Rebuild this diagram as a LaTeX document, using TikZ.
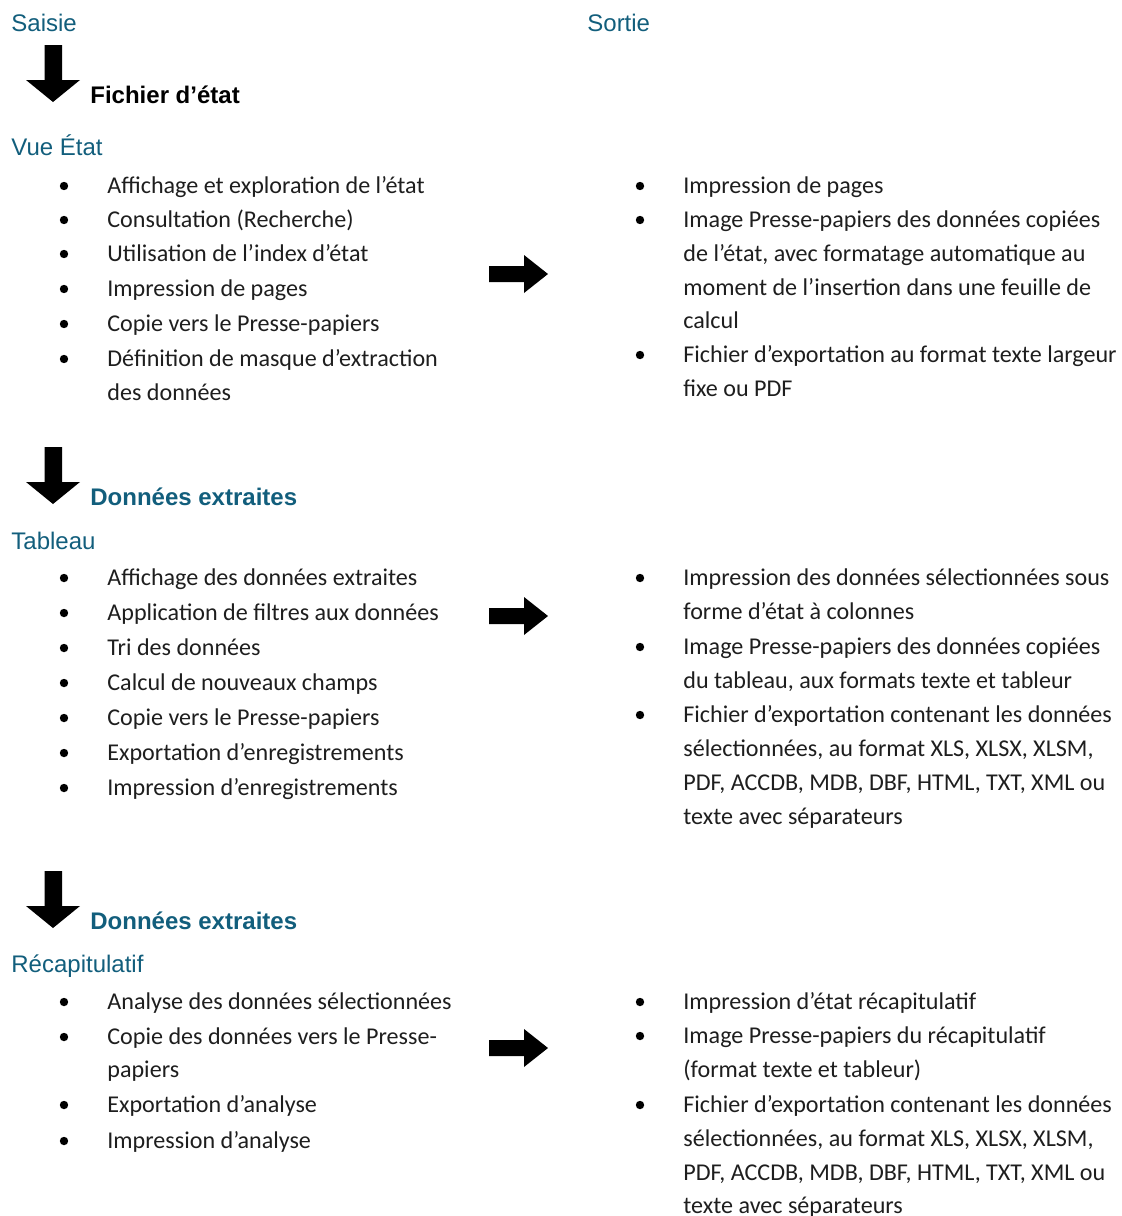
\documentclass[tikz,border=0pt]{standalone}
\usepackage{fontspec}
\setmainfont{Carlito}
\newfontfamily\arialf{Liberation Sans}
\definecolor{teal1}{RGB}{18,94,124}
\definecolor{bodycol}{RGB}{30,30,30}
\tikzset{
  head/.style={font=\arialf\fontsize{12}{14}\selectfont, text=teal1, anchor=base west, inner sep=0pt},
  headb/.style={font=\arialf\bfseries\fontsize{12}{14}\selectfont, text=black, anchor=base west, inner sep=0pt},
  headbt/.style={font=\arialf\bfseries\fontsize{12}{14}\selectfont, text=teal1, anchor=base west, inner sep=0pt},
  txt/.style={font=\fontsize{12.05}{14}\selectfont, text=bodycol, anchor=base west, inner sep=0pt},
  bul/.style={circle, fill=black, inner sep=0pt, minimum size=4.2pt},
}
\newcommand{\downarr}[1]{\fill[black] (44.5,#1) -- (62,#1) -- ++(0,35) -- (80,#1+35) -- (53,#1+57) -- (26,#1+35) -- (44.5,#1+35) -- cycle;}
\newcommand{\rightarr}[1]{\fill[black] (489,#1-8) -- (524,#1-8) -- (524,#1-19) -- (548,#1) -- (524,#1+19) -- (524,#1+8) -- (489,#1+8) -- cycle;}
\begin{document}
\begin{tikzpicture}[x=0.5pt,y=-0.5pt]
\useasboundingbox (0,0) rectangle (1122,1216);
% headers
\node[head] (saisie) at (11,31) {Saisie};
\node[head] (sortie) at (587,31) {Sortie};
% section 1
\downarr{45}
\node[headb] (fe) at (90,103) {Fichier d’état};
\node[head] (vue) at (11,155) {Vue État};
\foreach \y [count=\i] in {186,220,254,289,324,359} {\node[bul] (lb1\i) at (64,\y) {};}
\node[txt] (l1a) at (107,193) {Affichage et exploration de l’état};
\node[txt] (l1b) at (107,227) {Consultation (Recherche)};
\node[txt] (l1c) at (107,261) {Utilisation de l’index d’état};
\node[txt] (l1d) at (107,296) {Impression de pages};
\node[txt] (l1e) at (107,331) {Copie vers le Presse-papiers};
\node[txt] (l1f) at (107,366) {Définition de masque d’extraction};
\node[txt] (l1g) at (107,400) {des données};
\rightarr{274}
\foreach \y [count=\i] in {186,220,355} {\node[bul] (rb1\i) at (640,\y) {};}
\node[txt] (r1a) at (683,193) {Impression de pages};
\node[txt] (r1b) at (683,227) {Image Presse-papiers des données copiées};
\node[txt] (r1c) at (683,261) {de l’état, avec formatage automatique au};
\node[txt] (r1d) at (683,295) {moment de l’insertion dans une feuille de};
\node[txt] (r1e) at (683,328) {calcul};
\node[txt] (r1f) at (683,362) {Fichier d’exportation au format texte largeur};
\node[txt] (r1g) at (683,396) {fixe ou PDF};
% section 2
\downarr{447}
\node[headbt] (de1) at (90,505) {Données extraites};
\node[head] (tab) at (11,549) {Tableau};
\foreach \y [count=\i] in {578,613,648,683,718,753,788} {\node[bul] (lb2\i) at (64,\y) {};}
\node[txt] (l2a) at (107,585) {Affichage des données extraites};
\node[txt] (l2b) at (107,620) {Application de filtres aux données};
\node[txt] (l2c) at (107,655) {Tri des données};
\node[txt] (l2d) at (107,690) {Calcul de nouveaux champs};
\node[txt] (l2e) at (107,725) {Copie vers le Presse-papiers};
\node[txt] (l2f) at (107,760) {Exportation d’enregistrements};
\node[txt] (l2g) at (107,795) {Impression d’enregistrements};
\rightarr{616}
\foreach \y [count=\i] in {578,647,715} {\node[bul] (rb2\i) at (640,\y) {};}
\node[txt] (r2a) at (683,585) {Impression des données sélectionnées sous};
\node[txt] (r2b) at (683,619) {forme d’état à colonnes};
\node[txt] (r2c) at (683,654) {Image Presse-papiers des données copiées};
\node[txt] (r2d) at (683,688) {du tableau, aux formats texte et tableur};
\node[txt] (r2e) at (683,722) {Fichier d’exportation contenant les données};
\node[txt] (r2f) at (683,756) {sélectionnées, au format XLS, XLSX, XLSM,};
\node[txt] (r2g) at (683,790) {PDF, ACCDB, MDB, DBF, HTML, TXT, XML ou};
\node[txt] (r2h) at (683,824) {texte avec séparateurs};
% section 3
\downarr{871}
\node[headbt] (de2) at (90,929) {Données extraites};
\node[head] (recap) at (11,972) {Récapitulatif};
\foreach \y [count=\i] in {1002,1037,1105,1141} {\node[bul] (lb3\i) at (64,\y) {};}
\node[txt] (l3a) at (107,1009) {Analyse des données sélectionnées};
\node[txt] (l3b) at (107,1044) {Copie des données vers le Presse-};
\node[txt] (l3c) at (107,1077) {papiers};
\node[txt] (l3d) at (107,1112) {Exportation d’analyse};
\node[txt] (l3e) at (107,1148) {Impression d’analyse};
\rightarr{1048}
\foreach \y [count=\i] in {1002,1036,1105} {\node[bul] (rb3\i) at (640,\y) {};}
\node[txt] (r3a) at (683,1009) {Impression d’état récapitulatif};
\node[txt] (r3b) at (683,1043) {Image Presse-papiers du récapitulatif};
\node[txt] (r3c) at (683,1077) {(format texte et tableur)};
\node[txt] (r3d) at (683,1112) {Fichier d’exportation contenant les données};
\node[txt] (r3e) at (683,1146) {sélectionnées, au format XLS, XLSX, XLSM,};
\node[txt] (r3f) at (683,1180) {PDF, ACCDB, MDB, DBF, HTML, TXT, XML ou};
\node[txt] (r3g) at (683,1213) {texte avec séparateurs};
\end{tikzpicture}
\end{document}
